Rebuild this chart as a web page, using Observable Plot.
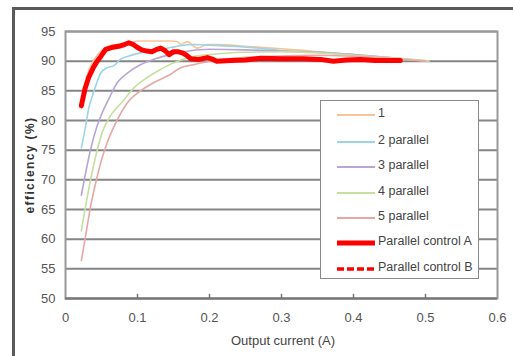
<!DOCTYPE html>
<html><head><meta charset="utf-8">
<script src="https://cdn.jsdelivr.net/npm/d3@7"></script>
<script src="https://cdn.jsdelivr.net/npm/@observablehq/plot@0.6"></script>
<style>
html,body{margin:0;padding:0;background:#fff;}
#wrap{position:relative;width:513px;height:356px;overflow:hidden;font-family:"Liberation Sans Narrow","Liberation Sans",Arial,sans-serif;}
#frameTop{position:absolute;left:12px;top:7px;width:510px;height:0;border-top:3px solid #5a5a5a;}
#frameLeft{position:absolute;left:12px;top:7px;width:0;height:360px;border-left:3px solid #5a5a5a;}
#ylabel{position:absolute;left:30px;top:165px;transform:translate(-50%,-50%) rotate(-90deg);white-space:nowrap;font-weight:bold;font-size:12px;letter-spacing:1.4px;color:#333;font-family:"Liberation Sans",Arial,sans-serif;}
#xlabel{position:absolute;left:283px;top:340px;transform:translate(-50%,-50%);white-space:nowrap;font-size:13px;color:#444;}
#legend{position:absolute;left:320px;top:100px;width:157px;height:177px;background:#fff;border:1.5px solid #8a8a8a;}
.li{position:absolute;left:0;height:20px;width:157px;}
.li svg{position:absolute;left:15px;top:0;}
.li span{position:absolute;left:57px;top:1px;font-size:12.5px;color:#444;white-space:nowrap;}
</style></head>
<body>
<div id="wrap">
  <div id="chart"></div>
  <div id="frameTop"></div>
  <div id="frameLeft"></div>
  <div id="ylabel">efficiency (%)</div>
  <div id="xlabel">Output current (A)</div>
  <div id="legend"></div>
</div>
<script>
// ---- data ----
const xTicks = [0, 0.1, 0.2, 0.3, 0.4, 0.5, 0.6];
const yTicks = [50, 55, 60, 65, 70, 75, 80, 85, 90, 95];
const seriesNames = ["1", "2 parallel", "3 parallel", "4 parallel", "5 parallel", "Parallel control A", "Parallel control B"];
const seriesColors = ["#f7c49a", "#9dd4e8", "#b6a6d6", "#c6dfa0", "#e8a6a6", "#ff0000", "#ff0000"];

const x1 = [0.022,0.03,0.04,0.05,0.06,0.075,0.09,0.1,0.12,0.146,0.155,0.16,0.169,0.183,0.197,0.21,0.25,0.3,0.35,0.4,0.45,0.5];
const e1 = [82,87.5,90.3,91.8,92.5,92.9,93.2,93.4,93.4,93.4,93.3,92.8,93.3,92.2,92.8,92.8,92.5,92.1,91.6,91.1,90.6,90.1];

const x2 = [0.022,0.028,0.032,0.037,0.043,0.049,0.058,0.067,0.076,0.086,0.104,0.122,0.146,0.178,0.2,0.247,0.285,0.3,0.35,0.4,0.44,0.47];
const e2 = [75.4,79.1,81.9,84,86.2,88,88.9,89.2,90.3,90.8,91.4,91.7,92.3,92.8,92.7,92.4,92,91.8,91.5,91.1,90.6,90.2];

const x3 = [0.022,0.028,0.035,0.044,0.051,0.06,0.072,0.086,0.104,0.122,0.146,0.16,0.2,0.25,0.3,0.35,0.4,0.45,0.48];
const e3 = [67.4,71.2,75.2,79.1,81.3,83.6,86.4,88,89.4,90.3,91.1,91.5,92,91.9,91.7,91.5,91.1,90.6,90.2];

const x4 = [0.022,0.028,0.035,0.042,0.051,0.0625,0.08,0.095,0.113,0.132,0.146,0.178,0.2,0.247,0.3,0.35,0.4,0.45,0.505];
const e4 = [61.4,65.6,70.1,74,78,80.8,83.3,85.5,87.2,88.6,89.5,90.8,91.1,91.5,91.6,91.4,91,90.6,90];

const x5 = [0.022,0.028,0.035,0.042,0.049,0.058,0.069,0.086,0.104,0.123,0.146,0.16,0.178,0.2,0.247,0.285,0.35,0.4,0.45,0.5];
const e5 = [56.4,60.6,65.6,69.5,72.9,76.3,79.4,83,85,86.4,87.8,88.9,89.4,90,90.6,90.8,91,90.8,90.5,90];

const xA = [0.022,0.027,0.032,0.039,0.044,0.049,0.056,0.064,0.074,0.082,0.088,0.094,0.1,0.106,0.113,0.12,0.127,0.132,0.138,0.144,0.15,0.156,0.162,0.167,0.174,0.185,0.197,0.205,0.21,0.23,0.25,0.271,0.3,0.33,0.354,0.372,0.39,0.41,0.43,0.45,0.465];
const eA = [82.5,85.3,87.2,89,90,90.8,92,92.3,92.5,92.8,93.1,92.8,92.3,91.9,91.7,91.6,92,92.2,91.8,91.1,91.6,91.6,91.4,91.1,90.4,90.3,90.6,90.3,90.0,90.1,90.2,90.5,90.4,90.4,90.3,90,90.2,90.3,90.1,90.1,90.1];

// ---- build ----
const xs = [x1, x2, x3, x4, x5, xA];
const es = [e1, e2, e3, e4, e5, eA];
const rows = [];
xs.forEach((xx, i) => xx.forEach((v, j) => rows.push({series: seriesNames[i], x: v, e: es[i][j]})));
const thin = rows.filter(d => d.series !== "Parallel control A");
const red = rows.filter(d => d.series === "Parallel control A");

const chart = Plot.plot({
  width: 513, height: 356,
  marginLeft: 65, marginRight: 16, marginTop: 31, marginBottom: 58,
  style: {fontFamily: '"Liberation Sans Narrow","Liberation Sans",Arial,sans-serif', fontSize: "13px", color: "#555", background: "transparent"},
  x: {domain: [0, 0.6]},
  y: {domain: [50, 95]},
  color: {domain: seriesNames, range: seriesColors},
  marks: [
    Plot.gridY(yTicks, {stroke: "#858585", strokeOpacity: 1, strokeWidth: 2}),
    Plot.frame({stroke: "#999", strokeWidth: 2}),
    Plot.ruleY([50], {stroke: "#777", strokeWidth: 2}),
    Plot.ruleX(xTicks.slice(1, -1), {y1: 50, y2: 50.7, stroke: "#777", strokeWidth: 1.5}),
    Plot.axisY({ticks: yTicks, tickSize: 0, tickPadding: 10, label: null}),
    Plot.axisX({ticks: xTicks, tickSize: 0, tickPadding: 14, label: null, tickFormat: d => d === 0 ? "0" : String(d)}),
    Plot.line(thin, {x: "x", y: "e", z: "series", stroke: "series", strokeWidth: 1.6, curve: "monotone-x"}),
    Plot.line(red, {x: "x", y: "e", stroke: "series", strokeWidth: 5, curve: "linear", strokeLinejoin: "round"})
  ]
});
document.getElementById("chart").appendChild(chart);

// legend
const lg = document.getElementById("legend");
const legendTops = [4, 31, 56, 82, 107, 132, 158];
seriesNames.forEach((name, i) => {
  const d = document.createElement("div");
  d.className = "li";
  d.style.top = legendTops[i] + "px";
  const w = i >= 5 ? 5 : 2;
  const dash = i === 6 ? 'stroke-dasharray="7,3"' : '';
  d.innerHTML = `<svg width="40" height="20"><line x1="1" x2="39" y1="10" y2="10" stroke="${seriesColors[i]}" stroke-width="${i===6?3.5:w}" ${dash}/></svg><span>${name}</span>`;
  lg.appendChild(d);
});
</script>
</body></html>
